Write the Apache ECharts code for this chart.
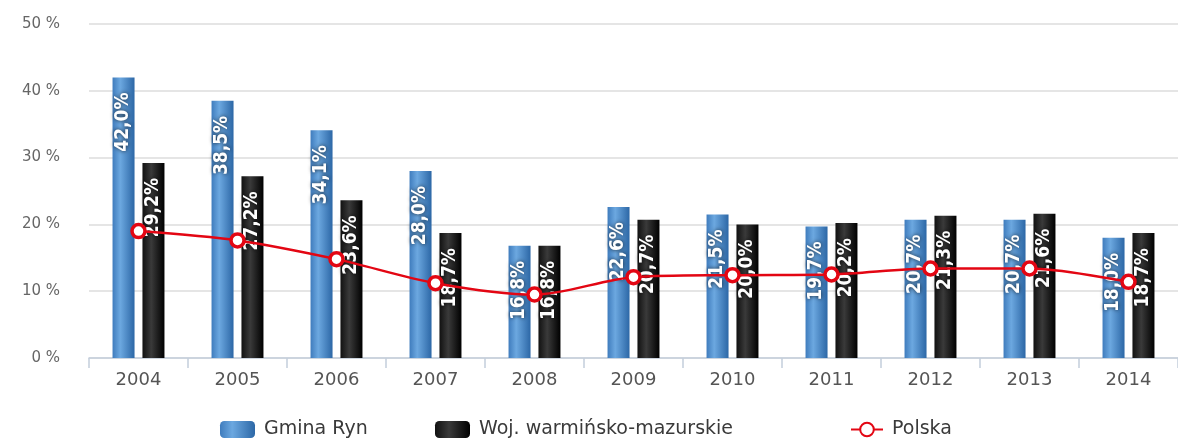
<!DOCTYPE html>
<html>
<head>
<meta charset="utf-8">
<script src="https://cdn.jsdelivr.net/npm/echarts@6/dist/echarts.min.js"></script>
<style>
  html, body { margin: 0; padding: 0; background: #fff; }
  #chart { width: 1178px; height: 438px; }
</style>
</head>
<body>
<div id="chart"></div>
<script>
// lata
const years = ['2004', '2005', '2006', '2007', '2008', '2009', '2010', '2011', '2012', '2013', '2014'];
// stopa bezrobocia, %
const gminaRyn = [42.0, 38.5, 34.1, 28.0, 16.8, 22.6, 21.5, 19.7, 20.7, 20.7, 18.0];
const wojWM = [29.2, 27.2, 23.6, 18.7, 16.8, 20.7, 20.0, 20.2, 21.3, 21.6, 18.7];
const polska = [19.0, 17.6, 14.8, 11.2, 9.5, 12.1, 12.4, 12.5, 13.4, 13.4, 11.4];
const yTicks = [0, 10, 20, 30, 40, 50];

const chart = echarts.init(document.getElementById('chart'));

const fmt = (v) => v.toFixed(1).replace('.', ',') + '%';

const barLabel = {
  show: true,
  position: 'insideTop',
  rotate: 90,
  align: 'right',
  verticalAlign: 'middle',
  distance: 15,
  color: '#fff',
  fontFamily: 'DejaVu Sans Condensed, DejaVu Sans',
  fontWeight: 'bold',
  fontSize: 19,
  textShadowColor: 'rgba(0,0,0,0.75)',
  textShadowBlur: 4,
  formatter: (p) => fmt(p.value)
};

const blueGrad = new echarts.graphic.LinearGradient(0, 0, 1, 0, [
  { offset: 0, color: '#3f7cbd' },
  { offset: 0.35, color: '#6ca8e0' },
  { offset: 1, color: '#2c67a6' }
]);
const blackGrad = new echarts.graphic.LinearGradient(0, 0, 1, 0, [
  { offset: 0, color: '#111' },
  { offset: 0.4, color: '#3a3a3a' },
  { offset: 1, color: '#000' }
]);

const legendText = { color: '#3a3a3a', fontSize: 19, fontFamily: 'DejaVu Sans', padding: [0, 0, 0, 4] };
const legendBase = { top: 420, padding: 0, itemWidth: 35, itemHeight: 17, itemGap: 0, textStyle: legendText };

const option = {
  animation: false,
  grid: { left: 89, right: -9, top: 24, bottom: 80 },
  legend: [
    Object.assign({ data: ['Gmina Ryn'], left: 220 }, legendBase),
    Object.assign({ data: ['Woj. warmińsko-mazurskie'], left: 435 }, legendBase),
    Object.assign({ data: ['Polska'], left: 850 }, legendBase, { itemWidth: 32 })
  ],
  xAxis: {
    type: 'category',
    data: years,
    axisLine: { lineStyle: { color: '#c3cedc', width: 1.5 } },
    axisTick: { show: true, length: 10, lineStyle: { color: '#c3cedc', width: 1.5 } },
    axisLabel: { color: '#555', fontSize: 18, fontFamily: 'DejaVu Sans', margin: 13 }
  },
  yAxis: {
    type: 'value',
    min: yTicks[0],
    max: yTicks[yTicks.length - 1],
    interval: 10,
    axisLine: { show: false },
    axisTick: { show: false },
    splitLine: { lineStyle: { color: '#dcdcdc', width: 1.5 } },
    axisLabel: {
      color: '#666', fontSize: 15, fontFamily: 'DejaVu Sans', margin: 29,
      formatter: (v) => v + ' %'
    }
  },
  series: [
    {
      name: 'Gmina Ryn',
      type: 'bar',
      data: gminaRyn,
      barWidth: 22,
      barGap: '36%',
      itemStyle: { color: blueGrad },
      label: barLabel
    },
    {
      name: 'Woj. warmińsko-mazurskie',
      type: 'bar',
      data: wojWM,
      barWidth: 22,
      itemStyle: { color: blackGrad },
      label: barLabel
    },
    {
      name: 'Polska',
      type: 'line',
      data: polska,
      smooth: 0.3,
      symbol: 'circle',
      symbolSize: 13,
      z: 5,
      lineStyle: { color: '#e30613', width: 2.5 },
      itemStyle: { color: '#fff', borderColor: '#e30613', borderWidth: 3.5 }
    }
  ]
};

chart.setOption(option);
</script>
</body>
</html>
